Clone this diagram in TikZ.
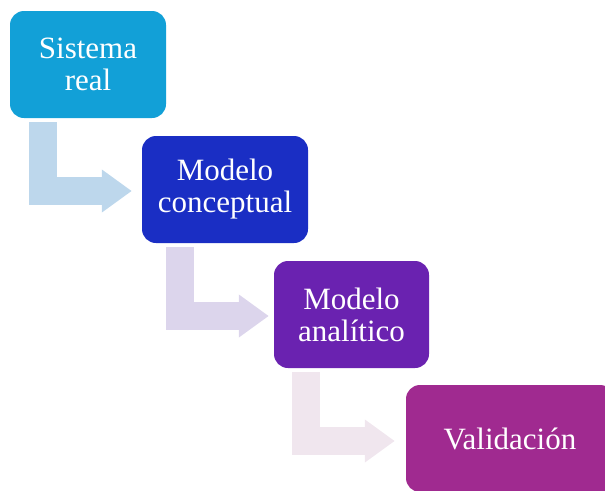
\documentclass[tikz,border=0pt]{standalone}
\usepackage{fontspec}
\setmainfont{Liberation Serif}
\usetikzlibrary{arrows.meta, calc}
\definecolor{cblue}{HTML}{12A0D7}
\definecolor{cnavy}{HTML}{1A2EC4}
\definecolor{cpurple}{HTML}{6A22B0}
\definecolor{cmagenta}{HTML}{A02A90}
\definecolor{ablue}{HTML}{BDD7EC}
\definecolor{alilac}{HTML}{DCD5EC}
\definecolor{apink}{HTML}{F0E6EE}

\begin{document}
\begin{tikzpicture}[
    x=1pt, y=-1pt,
    every node/.style={font=\fontsize{31}{32}\selectfont, text=white},
    box/.style={rounded corners=14pt, minimum height=107pt, inner sep=0pt, align=center},
    flowarrow/.style={line width=28pt, -{Triangle[length=30pt, width=41pt]}}
]
\useasboundingbox (0,0) rectangle (605,490);
\clip (0,0) rectangle (605,490);

%% Steps
\node[box, fill=cblue, minimum width=156pt] (sr) at (88,64.5) {Sistema\\real};
\node[box, fill=cnavy, minimum width=166pt] (mc) at (225,189.5) {Modelo\\conceptual};
\node[box, fill=cpurple, minimum width=155pt] (ma) at (351.5,314.5) {Modelo\\analítico};
\node[box, fill=cmagenta, minimum width=208pt] (va) at (510,438.5) {Validación};

%% Arrows
\draw[flowarrow, ablue] ($(sr.south west)+(33,4)$) |- ($(mc.west)+(-10,1.5)$);
\draw[flowarrow, alilac] ($(mc.south west)+(38,4)$) |- ($(ma.west)+(-5,1.5)$);
\draw[flowarrow, apink] ($(ma.south west)+(32,4)$) |- ($(va.west)+(-11,2.5)$);
\end{tikzpicture}
\end{document}
